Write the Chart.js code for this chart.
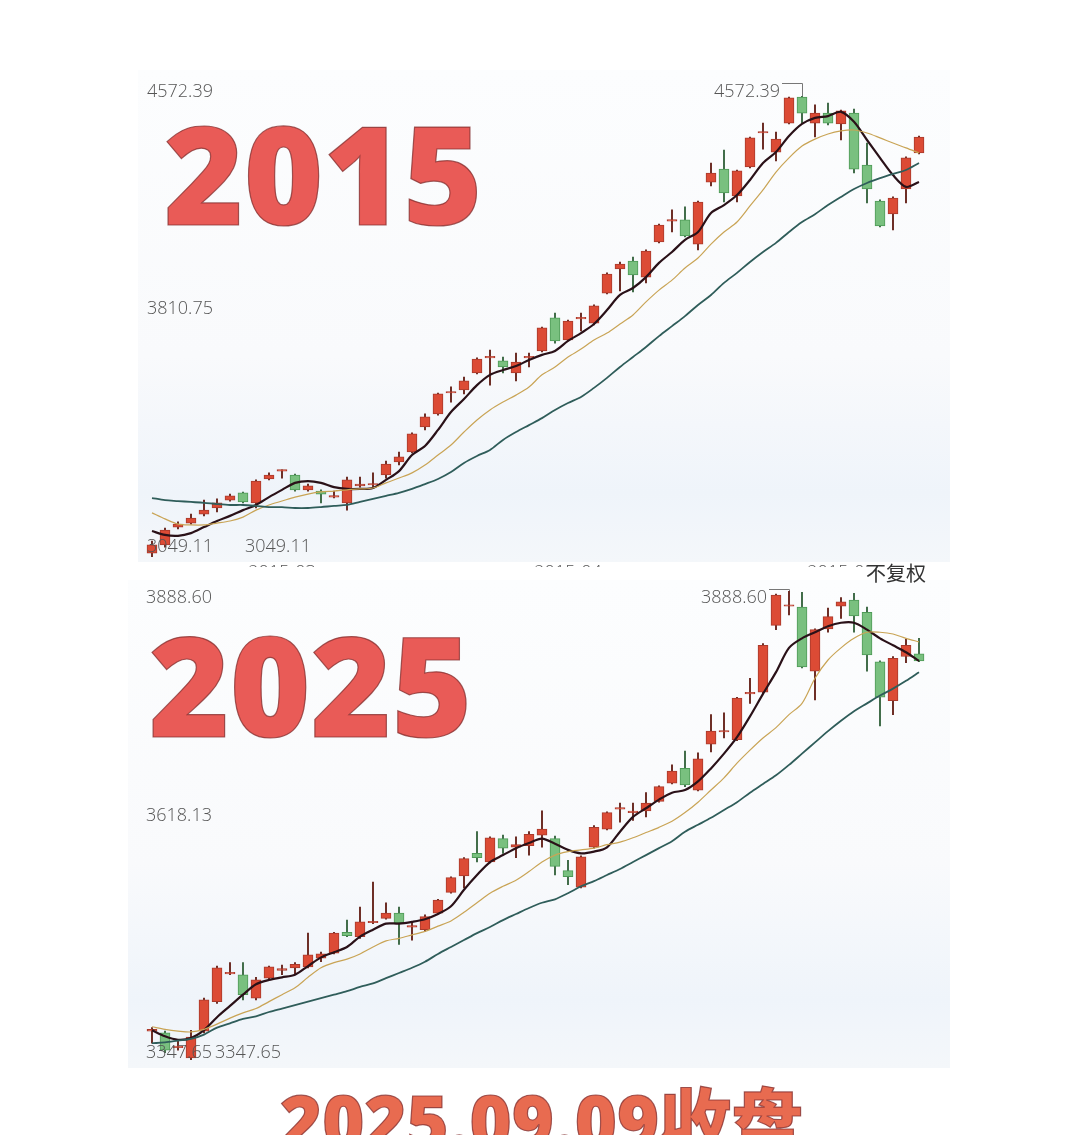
<!DOCTYPE html>
<html>
<head>
<meta charset="utf-8">
<script src="https://cdn.jsdelivr.net/npm/chart.js@4.4.1/dist/chart.umd.min.js"></script>
<style>
html, body { margin: 0; padding: 0; background: #fff; }
body { width: 1080px; height: 1135px; position: relative; overflow: hidden; font-family: 'Open Sans', sans-serif; }
.panel { position: absolute; background: linear-gradient(#fcfdfe 0%, #f9fafc 58%, #eff4fa 86%, #f4f7fa 100%); }
#p1 { left: 138px; top: 70px; width: 812px; height: 492px; z-index: 1; }
#c2015 { position: absolute; left: 140px; top: 70px; z-index: 2; }
#cover { position: absolute; left: 0; top: 567px; width: 1080px; height: 568px; background: #fff; z-index: 3; }
#p2 { left: 128px; top: 580px; width: 822px; height: 488px; z-index: 4; }
#c2025 { position: absolute; left: 130px; top: 570px; z-index: 5; }
.big { position: absolute; z-index: 6; font-family: 'Open Sans', 'Noto Sans CJK SC', sans-serif; font-weight: 800; line-height: 1; white-space: nowrap; -webkit-text-stroke: 1.2px rgba(130, 45, 45, 0.75); }
#t2015 { left: 164px; top: 105px; font-size: 136px; color: #e95b57; }
#t2025 { left: 149px; top: 614px; font-size: 138px; color: #e95b57; }
#foot { left: 280px; top: 1084px; font-size: 72px; color: #e86b50; }
#fq { position: absolute; z-index: 6; left: 866px; top: 561px; font-size: 20px; line-height: 24px; color: #333; font-family: 'Noto Sans CJK SC', sans-serif; }
</style>
</head>
<body>
<div class="panel" id="p1"></div>
<canvas id="c2015" width="810" height="510"></canvas>
<div id="cover"></div>
<div class="panel" id="p2"></div>
<canvas id="c2025" width="830" height="510"></canvas>
<div class="big" id="t2015">2015</div>
<div class="big" id="t2025">2025</div>
<div class="big" id="foot">2025.09.09收盘</div>
<div id="fq">不复权</div>

<script>
// ---------- 2015 (上证指数 日K) ----------
const dates2015 = [
  '2015-02-09','2015-02-10','2015-02-11','2015-02-12','2015-02-13','2015-02-16','2015-02-17','2015-02-25','2015-02-26','2015-02-27',
  '2015-03-02','2015-03-03','2015-03-04','2015-03-05','2015-03-06','2015-03-09','2015-03-10','2015-03-11','2015-03-12','2015-03-13',
  '2015-03-16','2015-03-17','2015-03-18','2015-03-19','2015-03-20','2015-03-23','2015-03-24','2015-03-25','2015-03-26','2015-03-27',
  '2015-03-30','2015-03-31','2015-04-01','2015-04-02','2015-04-03','2015-04-07','2015-04-08','2015-04-09','2015-04-10','2015-04-13',
  '2015-04-14','2015-04-15','2015-04-16','2015-04-17','2015-04-20','2015-04-21','2015-04-22','2015-04-23','2015-04-24','2015-04-27',
  '2015-04-28','2015-04-29','2015-04-30','2015-05-04','2015-05-05','2015-05-06','2015-05-07','2015-05-08','2015-05-11','2015-05-12'
];
const open2015 = [
  3062,3089,3148,3161,3191,3211,3237,3261,3228,3307, 3333,3320,3271,3267,3247,3228,3284,3287,3320,3363,
  3396,3479,3522,3591,3601,3657,3707,3697,3657,3707, 3730,3839,3766,3836,3822,3921,4001,4027,3974,4090,
  4159,4163,4083,4288,4331,4242,4338,4450,4387,4483, 4569,4483,4516,4480,4516,4344,4225,4183,4265,4384
];
const high2015 = [
  3102,3145,3165,3191,3237,3241,3257,3264,3304,3327, 3337,3323,3290,3271,3267,3313,3313,3327,3366,3396,
  3459,3522,3591,3611,3644,3707,3733,3710,3723,3723, 3809,3855,3832,3855,3882,3988,4024,4040,4064,4149,
  4196,4206,4225,4351,4394,4328,4437,4483,4453,4569, 4572.39,4543,4549,4526,4529,4417,4229,4239,4371,4440
];
const low2015 = [
  3049.11,3082,3142,3158,3185,3198,3234,3228,3211,3304, 3310,3267,3267,3228,3244,3204,3280,3277,3310,3353,
  3393,3469,3518,3561,3588,3654,3617,3657,3631,3677, 3727,3756,3763,3796,3816,3918,3928,3925,3955,4087,
  4123,4107,4064,4275,4222,4222,4335,4397,4358,4480, 4483,4437,4477,4427,4318,4219,4140,4130,4219,4381
];
const close2015 = [
  3089,3138,3158,3178,3204,3228,3251,3231,3300,3320, 3336,3271,3284,3257,3251,3304,3290,3290,3356,3380,
  3456,3512,3588,3594,3631,3703,3710,3677,3693,3710, 3806,3763,3829,3839,3879,3984,4017,3981,4060,4146,
  4163,4110,4222,4318,4252,4325,4434,4453,4430,4566, 4516,4516,4483,4523,4331,4265,4143,4235,4368,4437
];
const ma5_2015 = [
  3135,3122,3119,3128,3148,3168,3185,3204,3221,3247, 3271,3294,3300,3294,3280,3274,3274,3277,3304,3333,
  3386,3416,3469,3528,3571,3617,3651,3667,3680,3700, 3717,3730,3763,3789,3819,3865,3915,3938,3974,4021,
  4057,4097,4123,4186,4212,4245,4295,4351,4387,4440, 4480,4500,4506,4520,4487,4427,4368,4311,4272,4288
];
const ma10_2015 = [
  3195,3175,3158,3155,3155,3161,3168,3181,3204,3221, 3234,3247,3257,3264,3267,3271,3274,3277,3294,3310,
  3327,3353,3386,3419,3462,3502,3535,3561,3584,3611, 3651,3677,3710,3736,3766,3789,3819,3849,3892,3931,
  3964,4004,4037,4083,4123,4156,4209,4262,4321,4368, 4407,4430,4447,4457,4460,4450,4434,4417,4401,4384
];
const ma20_2015 = [
  3244,3237,3234,3231,3228,3224,3221,3221,3218,3214, 3214,3211,3211,3214,3218,3221,3231,3241,3251,3261,
  3274,3290,3307,3330,3360,3383,3403,3436,3462,3485, 3508,3535,3558,3578,3608,3641,3677,3710,3743,3779,
  3812,3845,3882,3915,3955,3988,4024,4057,4087,4123, 4156,4182,4212,4239,4265,4285,4301,4315,4328,4351
];
const yTicks2015 = [4572.39, 3810.75, 3049.11];

// ---------- 2025 ----------
const dates2025 = [
  '2025-06-18','2025-06-19','2025-06-20','2025-06-23','2025-06-24','2025-06-25','2025-06-26','2025-06-27','2025-06-30','2025-07-01',
  '2025-07-02','2025-07-03','2025-07-04','2025-07-07','2025-07-08','2025-07-09','2025-07-10','2025-07-11','2025-07-14','2025-07-15',
  '2025-07-16','2025-07-17','2025-07-18','2025-07-21','2025-07-22','2025-07-23','2025-07-24','2025-07-25','2025-07-28','2025-07-29',
  '2025-07-30','2025-07-31','2025-08-01','2025-08-04','2025-08-05','2025-08-06','2025-08-07','2025-08-08','2025-08-11','2025-08-12',
  '2025-08-13','2025-08-14','2025-08-15','2025-08-18','2025-08-19','2025-08-20','2025-08-21','2025-08-22','2025-08-25','2025-08-26',
  '2025-08-27','2025-08-28','2025-08-29','2025-09-01','2025-09-02','2025-09-03','2025-09-04','2025-09-05','2025-09-08','2025-09-09'
];
const open2025 = [
  3381,3379,3362,3350,3381,3415,3447,3446,3419,3442, 3451,3454,3455,3465,3471,3495,3490,3506,3511,3517,
  3501,3498,3517,3541,3560,3586,3576,3603,3593,3595, 3607,3603,3566,3547,3593,3614,3637,3633,3635,3646,
  3667,3684,3659,3712,3726,3717,3770,3772,3849,3871, 3870,3796,3845,3871,3878,3864,3807,3762,3813,3816
];
const high2025 = [
  3385,3381,3371,3382,3419,3456,3460,3460,3443,3456, 3457,3460,3494,3472,3495,3509,3524,3553,3529,3524,
  3506,3515,3533,3559,3581,3611,3605,3607,3605,3611, 3635,3606,3578,3583,3618,3634,3644,3644,3656,3664,
  3688,3704,3702,3746,3748,3766,3788,3828,3885,3888.60, 3887,3845,3869,3881,3886,3870,3808,3813,3833,3834
];
const low2025 = [
  3367,3356,3359,3347.65,3379,3413,3446,3417,3417,3441, 3446,3446,3454,3461,3470,3490,3488,3505,3510,3481,
  3486,3496,3516,3540,3546,3576,3575,3586,3581,3584, 3593,3561,3550,3546,3592,3613,3622,3624,3628,3645,
  3666,3663,3658,3703,3719,3716,3759,3771,3844,3861, 3800,3763,3841,3857,3841,3796,3733,3746,3806,3807
];
const close2025 = [
  3383,3359,3363,3374,3417,3454,3448,3423,3440,3455, 3453,3458,3469,3470,3494,3491,3507,3507,3517,3506,
  3502,3513,3532,3558,3580,3581,3604,3592,3596,3608, 3614,3571,3559,3582,3616,3633,3638,3634,3644,3663,
  3681,3665,3695,3727,3727,3765,3771,3826,3884,3872, 3801,3844,3859,3876,3860,3815,3766,3811,3826,3808
];
const ma5_2025 = [
  3382,3375,3371,3373,3382,3397,3410,3423,3435,3440, 3443,3446,3456,3466,3472,3478,3490,3498,3505,3505,
  3507,3510,3516,3525,3544,3561,3576,3584,3592,3598, 3603,3597,3590,3586,3588,3593,3611,3628,3638,3648,
  3656,3659,3669,3684,3701,3720,3744,3770,3795,3823, 3834,3841,3848,3852,3852,3844,3834,3826,3818,3808
];
const ma10_2025 = [
  3386,3383,3381,3380,3383,3389,3396,3402,3407,3415, 3423,3431,3443,3454,3460,3464,3470,3478,3485,3488,
  3492,3496,3502,3508,3518,3529,3540,3548,3555,3565, 3576,3584,3588,3590,3592,3596,3599,3604,3610,3616,
  3623,3633,3645,3659,3673,3690,3705,3719,3731,3746, 3759,3788,3809,3823,3834,3841,3841,3839,3834,3830
];
const ma20_2025 = [
  3367,3368,3370,3372,3377,3385,3390,3395,3398,3403, 3407,3411,3415,3419,3423,3427,3432,3436,3442,3448,
  3454,3461,3470,3478,3486,3494,3501,3509,3516,3523, 3529,3533,3540,3548,3554,3561,3568,3576,3584,3592,
  3600,3611,3619,3627,3636,3645,3656,3666,3676,3688, 3701,3714,3727,3739,3750,3759,3768,3776,3785,3795
];
const yTicks2025 = [3888.60, 3618.13, 3347.65];

// 价格标注：刻度、最高价、最低价、月份
const priceLabels = {
  id: 'priceLabels',
  afterDraw(chart, args, o) {
    const ctx = chart.ctx, x = chart.scales.x, y = chart.scales.y, a = chart.chartArea;
    ctx.save();
    ctx.font = '300 18px "Open Sans"';
    ctx.fillStyle = '#555';
    ctx.strokeStyle = '#777';
    ctx.lineWidth = 1;
    ctx.textBaseline = 'middle';
    ctx.textAlign = 'left';
    o.ticks.forEach((v, k) => {
      ctx.fillText(v.toFixed(2), a.left + o.tickDx, y.getPixelForValue(v) + o.tickDy[k]);
    });

    // 最高价
    const hi = Math.max(...o.highs);
    const hx = x.getPixelForValue(o.highs.indexOf(hi));
    const hy = y.getPixelForValue(hi);
    ctx.textAlign = 'right';
    ctx.fillText(hi.toFixed(2), hx - o.peakGap, hy + o.peakTextDy);
    ctx.beginPath();
    ctx.moveTo(hx - o.peakGap + 2, hy + o.peakLineDy + 0.5);
    ctx.lineTo(hx + 0.5, hy + o.peakLineDy + 0.5);
    ctx.lineTo(hx + 0.5, hy);
    ctx.stroke();

    // 最低价
    const lo = Math.min(...o.lows);
    const lx = x.getPixelForValue(o.lows.indexOf(lo));
    ctx.textAlign = 'left';
    ctx.fillText(lo.toFixed(2), lx + o.lowDx, y.getPixelForValue(lo) + o.lowDy);

    // 月份
    if (o.months) {
      ctx.textAlign = 'center';
      ctx.textBaseline = 'top';
      const labels = chart.data.labels;
      labels.forEach((d, i) => {
        if (i > 0 && d.slice(0, 7) !== labels[i - 1].slice(0, 7)) {
          ctx.fillText(d.slice(0, 7), x.getPixelForValue(i), a.bottom + 7);
        }
      });
    }
    ctx.restore();
  }
};

function drawKline(id, dates, open, high, low, close, ma5, ma10, ma20, ticks, pad, labelOpts) {
  const up = close.map((c, i) => c >= open[i]);
  const line = (data, color, w) => ({
    type: 'line', data: data, borderColor: color, borderWidth: w,
    pointRadius: 0, tension: 0.3, fill: false, order: 0
  });
  new Chart(document.getElementById(id), {
    type: 'bar',
    data: {
      labels: dates,
      datasets: [
        line(ma20, '#2f5d5a', 1.8),
        line(ma10, '#c9a455', 1.2),
        line(ma5, '#2a1118', 2.2),
        {
          data: low.map((l, i) => [l, high[i]]),
          backgroundColor: up.map(u => u ? '#6b2a22' : '#3f6b47'),
          barThickness: 1.3, grouped: false, order: 2
        },
        {
          data: open.map((v, i) => [v, close[i]]),
          backgroundColor: up.map(u => u ? '#dc4b35' : '#79c07f'),
          borderColor: up.map(u => u ? '#a93a2c' : '#4e9a57'),
          borderWidth: 1, borderSkipped: false,
          barThickness: 10, minBarLength: 1.5, grouped: false, order: 1
        }
      ]
    },
    options: {
      responsive: false,
      animation: false,
      layout: { padding: pad },
      scales: {
        x: { display: false, offset: true, grid: { display: false } },
        y: { display: false, min: ticks[ticks.length - 1], max: ticks[0] }
      },
      plugins: {
        legend: { display: false },
        tooltip: { enabled: false },
        priceLabels: Object.assign({ ticks: ticks, highs: high, lows: low }, labelOpts)
      }
    },
    plugins: [priceLabels]
  });
}

drawKline('c2015', dates2015, open2015, high2015, low2015, close2015,
  ma5_2015, ma10_2015, ma20_2015, yTicks2015,
  { left: 5.5, right: 24.5, top: 26, bottom: 23 },
  { tickDx: 1.5, tickDy: [-4, -17.5, -10], peakGap: 22, peakTextDy: -4, peakLineDy: -13,
    lowDx: 93, lowDy: -10, months: true });

drawKline('c2025', dates2025, open2025, high2025, low2025, close2025,
  ma5_2025, ma10_2025, ma20_2025, yTicks2025,
  { left: 15.5, right: 34.5, top: 21, bottom: 20 },
  { tickDx: 0.5, tickDy: [7, -9.5, -7], peakGap: 22, peakTextDy: 7, peakLineDy: -2,
    lowDx: 24, lowDy: -7, months: false });
</script>
</body>
</html>
